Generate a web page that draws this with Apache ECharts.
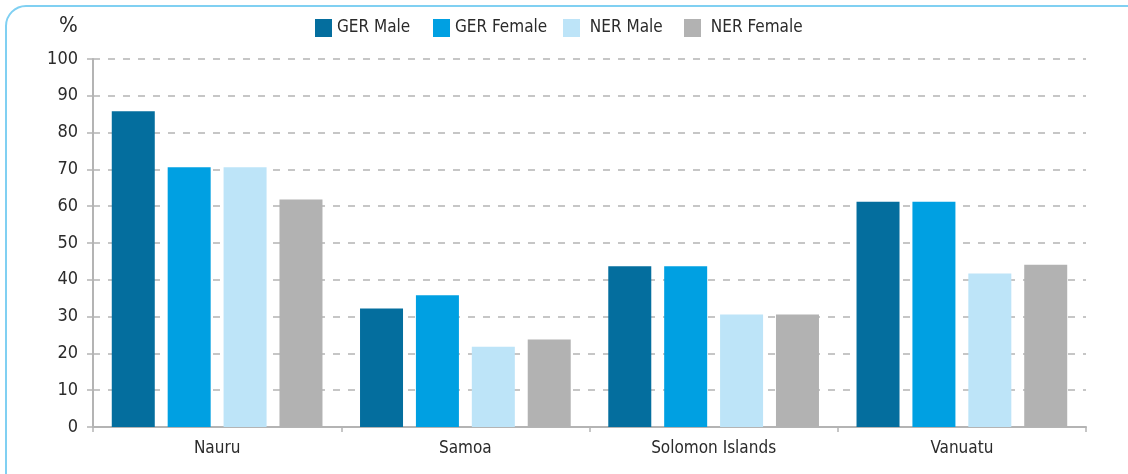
<!DOCTYPE html>
<html>
<head>
<meta charset="utf-8">
<script src="https://cdn.jsdelivr.net/npm/echarts@6/dist/echarts.min.js"></script>
<style>
  html, body { margin: 0; padding: 0; background: #fff; }
  #chart { width: 1128px; height: 474px; }
</style>
</head>
<body>
<div id="chart"></div>
<script>
// countries on the x axis
const countries = ['Nauru', 'Samoa', 'Solomon Islands', 'Vanuatu'];
// values, in %
const gerMale = [85.8, 32.2, 43.7, 61.2];
const gerFemale = [70.6, 35.8, 43.7, 61.2];
const nerMale = [70.6, 21.8, 30.6, 41.7];
const nerFemale = [61.8, 23.8, 30.6, 44.1];
const seriesNames = ['GER Male', 'GER Female', 'NER Male', 'NER Female'];
const colors = ['#046e9e', '#00a0e2', '#bde4f8', '#b2b2b2'];

const font = '"DejaVu Sans Condensed", "Liberation Sans Narrow", sans-serif';
const textColor = '#2b2b2b';
const axisGrey = '#b4b4b4';

// one legend per item so each sits where the reference puts it
const legendLefts = [315, 433, 563, 684];
const legendLabels = ['GER Male', 'GER Female', ' NER Male', ' NER Female'];

let myChart = echarts.init(document.getElementById('chart'));
myChart.setOption({
    animation: false,
    color: colors,
    graphic: [
        {
            type: 'rect',
            shape: {x: 6, y: 6, width: 1400, height: 800, r: 20},
            style: {fill: 'none', stroke: '#80d0f2', lineWidth: 2}
        },
        {
            type: 'text',
            left: 59, top: 15,
            style: {text: '%', font: '22px ' + font, fill: textColor}
        }
    ],
    legend: seriesNames.map((name, i) => ({
        data: [name],
        left: legendLefts[i],
        top: 19,
        padding: 0,
        itemWidth: 17,
        itemHeight: 18,
        icon: 'rect',
        formatter: () => legendLabels[i],
        textStyle: {fontFamily: font, fontSize: 17, color: textColor}
    })),
    grid: {left: 93, right: 42, top: 59, bottom: 47},
    xAxis: {
        type: 'category',
        data: countries,
        axisLine: {lineStyle: {color: axisGrey, width: 2}},
        axisTick: {show: true, length: 5, lineStyle: {color: axisGrey, width: 1.5}},
        axisLabel: {fontFamily: font, fontSize: 17, color: textColor, margin: 13}
    },
    yAxis: {
        type: 'value',
        min: 0,
        max: 100,
        interval: 10,
        axisLine: {show: true, lineStyle: {color: axisGrey, width: 2}},
        axisTick: {show: true, length: 6, lineStyle: {color: axisGrey, width: 1.5}},
        axisLabel: {fontFamily: font, fontSize: 18, color: textColor, margin: 15},
        splitLine: {lineStyle: {color: axisGrey, type: [7, 8], width: 1.5}}
    },
    series: [gerMale, gerFemale, nerMale, nerFemale].map((vals, i) => ({
        name: seriesNames[i],
        type: 'bar',
        barWidth: 43,
        barGap: '30%',
        data: vals
    }))
});
</script>
</body>
</html>
